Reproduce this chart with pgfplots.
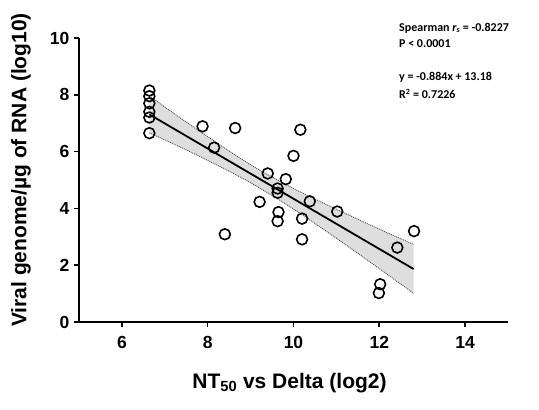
\documentclass[border=0pt]{standalone}
\usepackage{pgfplots}
\pgfplotsset{compat=1.18}
\usepackage{fontspec}
\setmainfont{Liberation Sans}
\newfontfamily\notefont{Carlito}
\begin{document}
\begin{tikzpicture}[x=1pt,y=1pt]
\path[use as bounding box] (-79,-88) rectangle (460,322);
\begin{axis}[
    at={(0,0)}, anchor=south west,
    width=429pt, height=284pt, scale only axis,
    xmin=5, xmax=15, ymin=0, ymax=10,
    axis x line*=bottom, axis y line*=left,
    axis line style={line width=2.2pt, -},
    xtick={6,8,10,12,14}, ytick={0,2,4,6,8,10},
    tick align=outside, major tick length=5pt,
    tick style={line width=1.6pt, black},
    /pgf/number format/assume math mode=true,
    ticklabel style={font=\fontsize{17.5}{17.5}\selectfont\bfseries},
    xticklabel style={yshift=-6pt},
    yticklabel style={xshift=-1pt},
    xlabel={\textbf{NT\textsubscript{50} vs Delta (log2)}},
    ylabel={\textbf{Viral genome/\textmu g of RNA (log10)}},
    label style={font=\fontsize{21}{21}\selectfont},
    xlabel style={at={(axis description cs:0.5,0)}, anchor=center, yshift=-61pt, xshift=-4pt},
    ylabel style={at={(axis description cs:0,0.5)}, anchor=center, yshift=58pt, xshift=10pt},
    clip=false,
]
% confidence band
\addplot[fill=black!13, draw=none] coordinates {
    (6.64,7.96) (7.5,7.04) (8.5,6.02) (9.2,5.36) (10,4.70) (11,3.97) (12,3.27) (12.8,2.73)
    (12.8,1.01) (12,1.88) (11,2.95) (10,3.98) (9.2,4.73) (8.5,5.31) (7.5,6.06) (6.64,6.66)
} -- cycle;
\addplot[black!70, densely dotted, line width=0.9pt, smooth] coordinates {
    (6.64,7.96) (7.5,7.04) (8.5,6.02) (9.2,5.36) (10,4.70) (11,3.97) (12,3.27) (12.8,2.73)
};
\addplot[black!70, densely dotted, line width=0.9pt, smooth] coordinates {
    (6.64,6.66) (7.5,6.06) (8.5,5.31) (9.2,4.73) (10,3.98) (11,2.95) (12,1.88) (12.8,1.01)
};
% fitted line
\addplot[black, line width=1.8pt] coordinates {(6.64,7.31) (12.8,1.865)};
% measured points
\addplot[only marks, mark=o, mark size=5.4pt, mark options={line width=1.6pt, black}] coordinates {
    (6.64,8.15) (6.64,7.95) (6.64,7.7) (6.64,7.4) (6.64,7.2) (6.64,6.65)
    (7.88,6.89) (8.64,6.83) (8.15,6.14) (10.16,6.77) (10.0,5.85)
    (9.40,5.23) (9.82,5.03) (9.63,4.70) (9.63,4.55) (9.21,4.23)
    (9.65,3.87) (9.63,3.55) (10.38,4.25) (11.02,3.89) (10.20,3.64)
    (8.40,3.09) (10.20,2.91) (12.81,3.20) (12.42,2.62) (12.02,1.33) (11.99,1.02)
};
\end{axis}
\node[anchor=west, font=\notefont\bfseries\fontsize{12}{12}\selectfont, inner sep=0pt] at (320,294) {Spearman \textit{r\textsubscript{s}} = -0.8227};
\node[anchor=west, font=\notefont\bfseries\fontsize{12}{12}\selectfont, inner sep=0pt] at (320,278) {P < 0.0001};
\node[anchor=west, font=\notefont\bfseries\fontsize{12}{12}\selectfont, inner sep=0pt] at (320,245) {y = -0.884x + 13.18};
\node[anchor=west, font=\notefont\bfseries\fontsize{12}{12}\selectfont, inner sep=0pt] at (320,228) {R\textsuperscript{2} = 0.7226};
\end{tikzpicture}
\end{document}
